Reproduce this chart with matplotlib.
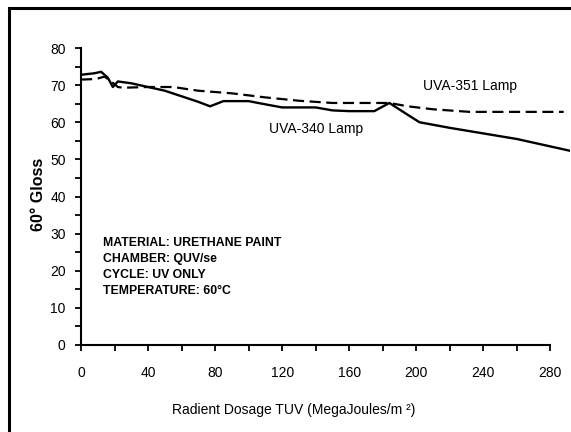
import matplotlib
matplotlib.use("Agg")
import matplotlib.pyplot as plt
from matplotlib.patches import Rectangle

# dosage (MegaJoules/m^2) vs 60 deg gloss
dose_340 = [0, 4, 8, 12, 16, 19, 22, 30, 40, 50, 60, 70, 77, 85, 100, 108,
            120, 140, 150, 160, 175, 184, 195, 202, 220, 240, 260, 280, 292]
gloss_340 = [72.8, 73, 73.2, 73.6, 72, 69.5, 71, 70.5, 69.5, 68.5, 67, 65.5,
             64.3, 65.7, 65.7, 65, 64, 64, 63.2, 63, 63, 65.2, 62, 60, 58.5,
             57, 55.5, 53.5, 52.3]

dose_351 = [0, 6, 10, 14, 18, 22, 25, 40, 55, 70, 90, 110, 130, 150, 170,
            184, 195, 210, 232, 260, 288]
gloss_351 = [71.5, 71.6, 71.8, 72.3, 71, 69.5, 69.3, 69.5, 69.5, 68.5, 67.8,
             66.7, 65.8, 65.2, 65.2, 65.2, 64.3, 63.5, 62.8, 62.8, 62.8]

notes = ["MATERIAL: URETHANE PAINT", "CHAMBER: QUV/se", "CYCLE: UV ONLY",
         "TEMPERATURE: 60\u00b0C"]

plt.rcParams['font.family'] = ['Liberation Sans', 'DejaVu Sans']

fig = plt.figure(figsize=(5.71, 4.32), dpi=100)
ax = fig.add_axes([0.1419, 0.2014, 0.857, 0.7046])

ax.plot(dose_340, gloss_340, color='black', lw=1.7)
ax.plot(dose_351, gloss_351, color='black', lw=1.6, linestyle=(0, (5, 2.5)))

ax.set_xlim(0, 292)
ax.set_ylim(0, 82)
for s in ['top', 'right']:
    ax.spines[s].set_visible(False)
ax.spines['left'].set_bounds(0, 80)
ax.spines['bottom'].set_bounds(0, 280)
ax.spines['left'].set_linewidth(1.5)
ax.spines['bottom'].set_linewidth(1.5)

ax.set_xticks(range(0, 281, 40))
ax.set_xticks(range(0, 281, 20), minor=True)
ax.set_yticks(range(0, 81, 10))
ax.set_yticks(range(0, 81, 5), minor=True)
ax.tick_params(which='both', direction='out', length=4, width=1.3)
ax.tick_params(axis='x', pad=11, labelsize=10)
ax.tick_params(axis='y', pad=7, labelsize=10)

ax.text(204, 69.8, "UVA-351 Lamp", fontsize=10, va='center', ha='left')
ax.text(112, 58.3, "UVA-340 Lamp", fontsize=10, va='center', ha='left')

for i, line in enumerate(notes):
    ax.text(13, 27.5 - i * 4.3, line, fontsize=8.8, fontweight='bold',
            va='center', ha='left')

fig.text(0.515, 0.051, "Radient Dosage TUV (MegaJoules/m \u00b2)",
         fontsize=10, ha='center', va='center')
fig.text(0.067, 0.549, "60\u00b0 Gloss", fontsize=11.5, fontweight='bold',
         rotation=90, ha='center', va='center')

# frame around the whole figure (scan is cropped on right and bottom)
fig.patches.append(Rectangle((9 / 571, -0.2), 1.5, 1.2 - 8 / 432 + 0.001,
                             transform=fig.transFigure, fill=False,
                             edgecolor='black', lw=2.2))

fig.savefig("out.png", dpi=100)
